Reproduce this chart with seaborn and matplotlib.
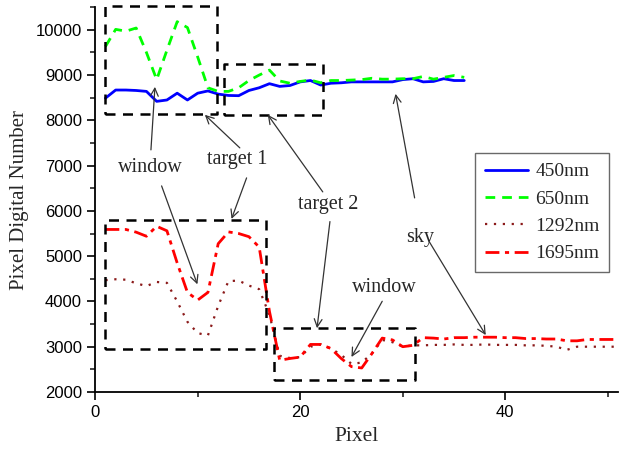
import numpy as np
import pandas as pd
import matplotlib
matplotlib.use("Agg")
import matplotlib.pyplot as plt
from matplotlib.ticker import MultipleLocator
import seaborn as sns

# ---- data ----
x_vis = list(range(1, 37))
nm450 = [8490, 8670, 8670, 8660, 8640, 8420, 8450, 8600, 8450, 8600,
         8650, 8580, 8550, 8545, 8660, 8720, 8810, 8750, 8770, 8850,
         8880, 8780, 8820, 8830, 8850, 8850, 8850, 8850, 8850, 8900,
         8920, 8850, 8860, 8920, 8880, 8880]
nm650 = [9630, 10010, 9970, 10040, 9500, 8900, 9550, 10180, 10050, 9400,
         8720, 8640, 8640, 8720, 8880, 9000, 9110, 8870, 8820, 8860,
         8890, 8830, 8880, 8880, 8890, 8900, 8930, 8910, 8910, 8920,
         8920, 8970, 8910, 8950, 8990, 8950]
x_ir = list(range(1, 52))
nm1292 = [4470, 4490, 4480, 4400, 4340, 4430, 4410, 4000, 3550, 3300,
          3250, 3900, 4450, 4460, 4350, 4270, 3700, 2800, 2750, 2770,
          3000, 3050, 2960, 2820, 2620, 2650, 2850, 3150, 3100, 3000,
          3030, 3030, 3040, 3040, 3050, 3040, 3040, 3050, 3040, 3040,
          3040, 3030, 3030, 3020, 3000, 2930, 3000, 3000, 3000, 3000,
          3000]
nm1695 = [5590, 5590, 5590, 5530, 5440, 5660, 5560, 4850, 4200, 4030,
          4200, 5275, 5536, 5500, 5430, 5200, 3780, 2700, 2740, 2770,
          3050, 3050, 2960, 2740, 2560, 2530, 2850, 3190, 3150, 3000,
          3030, 3200, 3190, 3170, 3200, 3200, 3210, 3210, 3210, 3200,
          3200, 3180, 3180, 3170, 3170, 3130, 3130, 3160, 3160, 3160,
          3160]
series_names = ["450nm", "650nm", "1292nm", "1695nm"]

sns.set_style("ticks")
plt.rcParams['font.family'] = ['Liberation Sans', 'DejaVu Sans']

fig = plt.figure(figsize=(6.22, 4.49), dpi=100)
ax = fig.add_axes([0.153, 0.127, 0.8406, 0.857])

styles = [
    (x_vis, nm450, "#0000FF", "-", 2.0),
    (x_vis, nm650, "#00FF00", (0, (3.5, 2.5)), 2.0),
    (x_ir, nm1292, "#8B1A1A", (0, (1, 3)), 1.6),
    (x_ir, nm1695, "#FF0000", (0, (5, 2, 1.5, 2)), 2.0),
]
for name, (xs, ys, c, ls, lw) in zip(series_names, styles):
    df = pd.DataFrame({"Pixel": xs, "DN": ys})
    sns.lineplot(data=df, x="Pixel", y="DN", ax=ax, color=c, lw=lw,
                 linestyle=ls, label=name)

# dashed annotation boxes
boxes = [(0.97, 11.9, 8150, 10520), (12.55, 22.2, 8120, 9250),
         (0.97, 16.7, 2945, 5800), (17.45, 31.2, 2272, 3423)]
for x0, x1, y0, y1 in boxes:
    ax.plot([x0, x1, x1, x0, x0], [y0, y0, y1, y1, y0], color="black",
            lw=1.8, linestyle=(0, (4, 3)), clip_on=False)

serif = ['Liberation Serif', 'DejaVu Serif']
labels = [("window", 5.34, 6950), ("target 1", 13.9, 7127),
          ("target 2", 22.7, 6133), ("sky", 31.65, 5403),
          ("window", 28.2, 4298)]
for t, tx, ty in labels:
    ax.text(tx, ty, t, ha="center", va="center", fontsize=14.5,
            family=serif)

arrows = [((5.44, 7348), (5.83, 8740)), ((6.48, 6552), (9.97, 4378)),
          ((14.11, 7392), (10.7, 8122)), ((14.77, 6729), (13.3, 5823)),
          ((22.2, 6420), (16.84, 8122)), ((22.9, 5764), (21.64, 3408)),
          ((31.16, 6287), (29.3, 8586)), ((32.6, 5315), (38.1, 3257)),
          ((28.0, 4004), (25.0, 2773))]
for tail, head in arrows:
    ax.annotate("", xy=head, xytext=tail,
                arrowprops=dict(arrowstyle="->", color="#333333", lw=0.9,
                                shrinkA=0, shrinkB=0,
                                mutation_scale=14))

ax.set_xlim(0, 51)
ax.set_ylim(2000, 10500)
ax.xaxis.set_major_locator(MultipleLocator(20))
ax.xaxis.set_minor_locator(MultipleLocator(10))
ax.yaxis.set_major_locator(MultipleLocator(1000))
ax.yaxis.set_minor_locator(MultipleLocator(500))
ax.tick_params(which="major", direction="out", length=6, width=1.2,
               labelsize=12, colors="black")
ax.tick_params(which="minor", direction="out", length=3.5, width=1.2)
for s in ["left", "bottom"]:
    ax.spines[s].set_linewidth(1.3)
    ax.spines[s].set_color("black")
sns.despine(ax=ax)

ax.set_xlabel("Pixel", fontsize=15.5, family=serif, labelpad=5)
ax.set_ylabel("Pixel Digital Number", fontsize=15, family=serif, labelpad=5)

leg = ax.legend(loc="upper left", bbox_to_anchor=(0.7265, 0.621),
                borderaxespad=0, frameon=True, fancybox=False,
                edgecolor="#444444", prop={"family": serif, "size": 14},
                handlelength=2.2, labelspacing=0.5, borderpad=0.5,
                handletextpad=0.4)
leg.get_frame().set_linewidth(1.0)

fig.savefig("out.png", dpi=100)
